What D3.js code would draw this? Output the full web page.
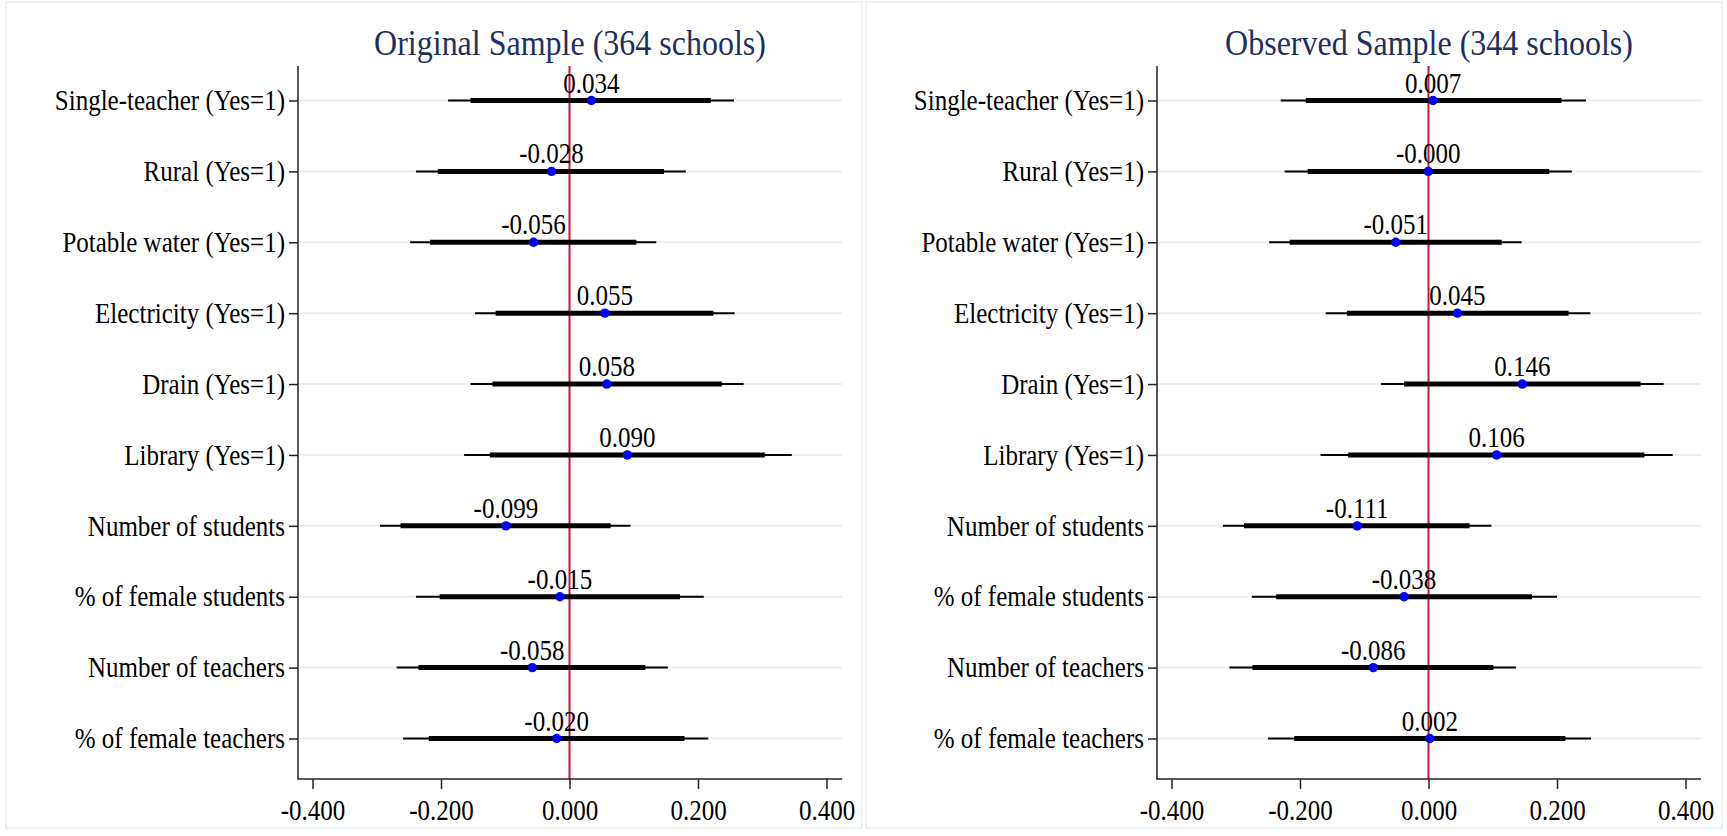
<!DOCTYPE html>
<html>
<head>
<meta charset="utf-8">
<script src="https://cdn.jsdelivr.net/npm/d3@7"></script>
<style>
  html, body { margin: 0; padding: 0; background: #ffffff; }
  svg { display: block; }
  text { font-family: "Liberation Serif", "Times New Roman", serif; }
</style>
</head>
<body>
<svg id="chart" width="1727" height="836"></svg>
<script>
// Covariates (top to bottom)
const categories = [
  "Single-teacher (Yes=1)",
  "Rural (Yes=1)",
  "Potable water (Yes=1)",
  "Electricity (Yes=1)",
  "Drain (Yes=1)",
  "Library (Yes=1)",
  "Number of students",
  "% of female students",
  "Number of teachers",
  "% of female teachers"
];

// Original sample: point estimates and confidence bounds
const origTitle = "Original Sample (364 schools)";
const origEst     = [0.034, -0.028, -0.056, 0.055, 0.058, 0.090, -0.099, -0.015, -0.058, -0.020];
const origOuterLo = [-0.189, -0.239, -0.248, -0.147, -0.154, -0.164, -0.295, -0.239, -0.269, -0.259];
const origOuterHi = [0.256, 0.181, 0.135, 0.257, 0.271, 0.346, 0.095, 0.209, 0.153, 0.216];
const origInnerLo = [-0.154, -0.205, -0.217, -0.115, -0.120, -0.124, -0.263, -0.202, -0.235, -0.219];
const origInnerHi = [0.220, 0.147, 0.104, 0.224, 0.237, 0.304, 0.064, 0.172, 0.118, 0.179];

// Observed sample: point estimates and confidence bounds
const obsTitle = "Observed Sample (344 schools)";
const obsEst     = [0.007, -0.0004, -0.051, 0.045, 0.146, 0.106, -0.111, -0.038, -0.086, 0.002];
const obsOuterLo = [-0.230, -0.224, -0.248, -0.160, -0.074, -0.168, -0.320, -0.275, -0.310, -0.250];
const obsOuterHi = [0.245, 0.223, 0.145, 0.252, 0.366, 0.380, 0.098, 0.200, 0.136, 0.253];
const obsInnerLo = [-0.191, -0.188, -0.216, -0.127, -0.038, -0.125, -0.287, -0.237, -0.274, -0.209];
const obsInnerHi = [0.207, 0.188, 0.114, 0.218, 0.330, 0.336, 0.064, 0.161, 0.101, 0.213];

// x-axis ticks
const xTicks = [-0.4, -0.2, 0, 0.2, 0.4];

const panels = [
  { title: origTitle, est: origEst, oLo: origOuterLo, oHi: origOuterHi, iLo: origInnerLo, iHi: origInnerHi },
  { title: obsTitle,  est: obsEst,  oLo: obsOuterLo,  oHi: obsOuterHi,  iLo: obsInnerLo,  iHi: obsInnerHi }
];

const svg = d3.select("#chart");
const panelShift = 859;
const fmt = v => v.toFixed(3);
const stretch = 1.15;          // glyphs are drawn slightly tall
const fs = 25;                 // body text size

const y = d3.scalePoint().domain(categories).range([100.5, 738.5]);
const axisTop = 66, axisBottom = 779;

// place a text at (x, y) with a vertical stretch
function tallText(sel, x, yy) {
  return sel.attr("transform", `translate(${x},${yy}) scale(1,${stretch})`);
}

panels.forEach((p, pi) => {
  const dx = pi * panelShift;
  const g = svg.append("g").attr("transform", `translate(${dx},0)`);

  // panel frame
  g.append("rect")
    .attr("x", pi === 0 ? 6 : 7).attr("y", 2)
    .attr("width", 856).attr("height", 826)
    .attr("fill", "none").attr("stroke", "#e3ebef").attr("stroke-width", 1.5);

  const left = 298, right = 842;
  const x = d3.scaleLinear().domain([-0.4, 0.4]).range([312.5, 826.5]);

  // horizontal gridlines
  g.append("g").selectAll("line").data(categories).join("line")
    .attr("x1", left).attr("x2", right)
    .attr("y1", d => y(d)).attr("y2", d => y(d))
    .attr("stroke", "#e9eff3").attr("stroke-width", 2);

  // title
  tallText(g.append("text"), (left + right) / 2, 55)
    .attr("text-anchor", "middle")
    .attr("font-size", 32)
    .attr("fill", "#1f2f5f")
    .text(p.title);

  // reference line at zero
  g.append("line")
    .attr("x1", x(0)).attr("x2", x(0))
    .attr("y1", axisTop).attr("y2", axisBottom)
    .attr("stroke", "#c8163e").attr("stroke-width", 2);

  const rows = categories.map((c, i) => ({
    c, est: p.est[i], oLo: p.oLo[i], oHi: p.oHi[i], iLo: p.iLo[i], iHi: p.iHi[i]
  }));

  // outer interval
  g.append("g").selectAll("line").data(rows).join("line")
    .attr("x1", d => x(d.oLo)).attr("x2", d => x(d.oHi))
    .attr("y1", d => y(d.c)).attr("y2", d => y(d.c))
    .attr("stroke", "#000").attr("stroke-width", 2);

  // inner interval
  g.append("g").selectAll("line").data(rows).join("line")
    .attr("x1", d => x(d.iLo)).attr("x2", d => x(d.iHi))
    .attr("y1", d => y(d.c)).attr("y2", d => y(d.c))
    .attr("stroke", "#000").attr("stroke-width", 5);

  // point estimates
  g.append("g").selectAll("circle").data(rows).join("circle")
    .attr("cx", d => x(d.est)).attr("cy", d => y(d.c))
    .attr("r", 4.7).attr("fill", "#0000ff");

  // value labels
  g.append("g").selectAll("text").data(rows).join("text")
    .attr("transform", d => `translate(${x(d.est)},${y(d.c) - 8}) scale(1,${stretch})`)
    .attr("text-anchor", "middle")
    .attr("font-size", fs).attr("fill", "#000")
    .text(d => fmt(d.est));

  // y axis
  const yAxis = g.append("g").attr("transform", `translate(${left},0)`)
    .call(d3.axisLeft(y).tickSize(9).tickPadding(4));
  yAxis.select(".domain").remove();
  yAxis.selectAll(".tick line").attr("stroke", "#222").attr("stroke-width", 1.5);
  yAxis.selectAll(".tick text")
    .attr("transform", `scale(1,${stretch})`)
    .attr("font-size", fs).attr("fill", "#000")
    .attr("font-family", "'Liberation Serif', 'Times New Roman', serif");
  g.append("line")
    .attr("x1", left).attr("x2", left)
    .attr("y1", axisTop).attr("y2", axisBottom)
    .attr("stroke", "#222").attr("stroke-width", 1.5);

  // x axis
  const xAxis = g.append("g").attr("transform", `translate(0,${axisBottom})`)
    .call(d3.axisBottom(x).tickValues(xTicks).tickFormat(fmt).tickSize(10));
  xAxis.select(".domain").remove();
  xAxis.selectAll(".tick line").attr("stroke", "#222").attr("stroke-width", 1.5);
  xAxis.selectAll(".tick text")
    .attr("y", 41 / stretch).attr("dy", null)
    .attr("transform", `scale(1,${stretch})`)
    .attr("font-size", fs).attr("fill", "#000")
    .attr("font-family", "'Liberation Serif', 'Times New Roman', serif");
  g.append("line")
    .attr("x1", left - 0.75).attr("x2", right)
    .attr("y1", axisBottom).attr("y2", axisBottom)
    .attr("stroke", "#222").attr("stroke-width", 1.5);
});
</script>
</body>
</html>
